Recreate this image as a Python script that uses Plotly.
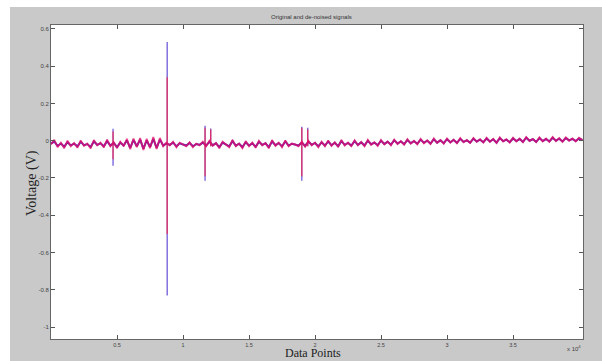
import plotly.graph_objects as go

step = 250
red_vals = [
    -0.02, 0.005, -0.035, -0.01, -0.04, 0.0, -0.03, -0.012, -0.038, 0.002,
    -0.028, -0.015, -0.042, 0.004, -0.025, -0.01, -0.036, 0.006, -0.03, -0.008,
    -0.04, -0.005, -0.03, 0.01, -0.045, 0.012, -0.035, 0.015, -0.05, 0.01,
    -0.04, 0.02, -0.045, 0.015, -0.03, -0.01, -0.025, -0.005, -0.035, -0.01,
    -0.02, -0.03, -0.008, -0.035, -0.015, -0.025, -0.005, -0.03, 0.0, -0.028,
    -0.012, -0.04, -0.005, -0.022, -0.035, 0.005, -0.03, -0.015, -0.04, -0.002,
    -0.03, -0.01, -0.038, 0.0, -0.025, -0.012, -0.04, 0.004, -0.028, -0.01,
    -0.035, 0.002, -0.03, -0.015, -0.02, -0.03, -0.005, -0.032, 0.0, -0.025,
    -0.01, -0.035, -0.005, -0.03, 0.002, -0.028, -0.008, -0.034, 0.004, -0.026,
    -0.01, -0.03, 0.003, -0.025, -0.006, -0.03, 0.005, -0.022, -0.008, -0.028,
    0.004, -0.02, -0.004, -0.025, 0.006, -0.018, -0.002, -0.022, 0.008, -0.016,
    0.0, -0.02, 0.01, -0.014, 0.002, -0.018, 0.012, -0.012, 0.004, -0.016,
    0.012, -0.01, 0.006, -0.014, 0.014, -0.008, 0.004, -0.012, 0.015, -0.006,
    0.008, -0.01, 0.016, -0.006, 0.01, -0.012, 0.018, -0.004, 0.008, -0.01,
    0.016, -0.004, 0.012, -0.008, 0.02, -0.002, 0.01, -0.008, 0.018, -0.004,
    0.012, -0.006, 0.02, -0.002, 0.014, -0.006, 0.018, 0.0, 0.012, -0.004,
    0.016, 0.004,
]
blue_vals = [
    -0.015, -0.005, -0.028, -0.015, -0.032, -0.008, -0.025, -0.016, -0.03, -0.006,
    -0.024, -0.018, -0.034, -0.004, -0.022, -0.014, -0.03, -0.002, -0.026, -0.012,
    -0.034, -0.01, -0.026, 0.002, -0.038, 0.004, -0.03, 0.006, -0.042, 0.002,
    -0.034, 0.01, -0.038, 0.006, -0.026, -0.014, -0.022, -0.01, -0.03, -0.014,
    -0.02, -0.026, -0.012, -0.03, -0.018, -0.022, -0.01, -0.026, -0.006, -0.024,
    -0.014, -0.034, -0.01, -0.02, -0.03, -0.002, -0.026, -0.016, -0.034, -0.008,
    -0.026, -0.014, -0.032, -0.006, -0.022, -0.014, -0.034, -0.004, -0.024, -0.013,
    -0.03, -0.004, -0.026, -0.016, -0.02, -0.026, -0.01, -0.028, -0.005, -0.022,
    -0.012, -0.03, -0.009, -0.026, -0.004, -0.024, -0.011, -0.029, -0.002, -0.022,
    -0.012, -0.026, -0.002, -0.022, -0.009, -0.025, 0.0, -0.019, -0.01, -0.023,
    0.0, -0.017, -0.006, -0.021, 0.002, -0.015, -0.004, -0.018, 0.004, -0.013,
    -0.002, -0.016, 0.006, -0.011, 0.0, -0.015, 0.008, -0.01, 0.002, -0.013,
    0.008, -0.008, 0.004, -0.011, 0.01, -0.006, 0.002, -0.01, 0.011, -0.004,
    0.006, -0.008, 0.012, -0.004, 0.008, -0.01, 0.014, -0.002, 0.006, -0.008,
    0.012, -0.002, 0.009, -0.006, 0.016, 0.0, 0.008, -0.006, 0.014, -0.002,
    0.009, -0.004, 0.016, 0.0, 0.011, -0.004, 0.014, 0.002, 0.01, -0.002,
    0.012, 0.004,
]
x_vals = [i * step for i in range(len(red_vals))]

spike_x = [4700, 8800, 11670, 12100, 19000, 19450]
red_hi = [0.05, 0.34, 0.07, 0.06, 0.07, 0.06]
red_lo = [-0.10, -0.50, -0.19, -0.03, -0.19, -0.03]
blue_hi = [0.064, 0.53, 0.08, 0.065, 0.075, 0.07]
blue_lo = [-0.134, -0.83, -0.215, -0.03, -0.215, -0.03]

y_ticks = [0.6, 0.4, 0.2, 0, -0.2, -0.4, -0.6, -0.8, -1]
y_labels = ["0.6", "0.4", "0.2", "0", "-0.2", "-0.4", "-0.6", "-0.8", "-1"]
x_ticks = [5000, 10000, 15000, 20000, 25000, 30000, 35000]
x_labels = ["0.5", "1", "1.5", "2", "2.5", "3", "3.5"]


def seg(xs, lo, hi):
    sx, sy = [], []
    for a, b, c in zip(xs, lo, hi):
        sx += [a, a, None]
        sy += [b, c, None]
    return sx, sy


fig = go.Figure()
bx, by = seg(spike_x, blue_lo, blue_hi)
rx, ry = seg(spike_x, red_lo, red_hi)
fig.add_trace(go.Scatter(x=bx, y=by, mode="lines", line=dict(color="#4a2fd0", width=1.2), opacity=0.85))
fig.add_trace(go.Scatter(x=x_vals, y=blue_vals, mode="lines", line=dict(color="#5a1fb0", width=2)))
fig.add_trace(go.Scatter(x=rx, y=ry, mode="lines", line=dict(color="#ff1a3a", width=1.2), opacity=0.8))
fig.add_trace(go.Scatter(x=x_vals, y=red_vals, mode="lines", line=dict(color="#e8106a", width=1.8), opacity=0.75))

L, R, T, B = 51, 19, 25, 22
W, H = 602, 361
pw, ph = W - L - R, H - T - B

fig.update_layout(
    width=W, height=H,
    margin=dict(l=L, r=R, t=T, b=B),
    paper_bgcolor="white",
    plot_bgcolor="white",
    showlegend=False,
    shapes=[
        dict(type="rect", xref="paper", yref="paper", layer="below",
             x0=(10 - L) / pw, x1=(W - L) / pw, y0=-B / ph, y1=(H - 7 - B) / ph,
             fillcolor="#c9c9c9", line=dict(width=0)),
        dict(type="rect", xref="paper", yref="paper", layer="below",
             x0=0, x1=1, y0=0, y1=1, fillcolor="white", line=dict(width=0)),
    ],
    annotations=[
        dict(text="Original and de-noised signals", xref="paper", yref="paper",
             x=(311 - L) / pw, y=(H - B - 12) / ph, showarrow=False,
             font=dict(family="Liberation Sans", size=6, color="#333333")),
        dict(text="Data Points", xref="paper", yref="paper",
             x=(313 - L) / pw, y=(H - B - 361) / ph, yanchor="bottom", showarrow=False,
             borderpad=0,
             font=dict(family="Liberation Serif", size=12, color="#222222")),
        dict(text="Voltage (V)", xref="paper", yref="paper", textangle=-90,
             x=(22 - L) / pw, y=(H - B - 183) / ph, showarrow=False,
             font=dict(family="Liberation Serif", size=14, color="#222222")),
        dict(text="x 10<sup>4</sup>", xref="paper", yref="paper",
             x=(583 - L) / pw, y=(H - B - 354) / ph, showarrow=False,
             font=dict(family="Liberation Sans", size=6, color="#444444")),
    ],
)
fig.update_xaxes(range=[0, 40300], tickvals=x_ticks, ticktext=x_labels,
                 ticks="inside", ticklen=4, tickcolor="#555555", mirror="ticks",
                 showline=True, linecolor="#666666", linewidth=1, showgrid=False,
                 zeroline=False, tickfont=dict(family="Liberation Sans", size=5.5, color="#444444"))
fig.update_yaxes(range=[-1.064, 0.621], tickvals=y_ticks, ticktext=y_labels,
                 ticks="inside", ticklen=4, tickcolor="#555555", mirror="ticks",
                 showline=True, linecolor="#666666", linewidth=1, showgrid=False,
                 zeroline=False, tickfont=dict(family="Liberation Sans", size=6, color="#444444"))

fig.write_html("out.html", config={"displayModeBar": False},
               post_script="document.body.style.margin='0';document.body.style.overflow='hidden';")
